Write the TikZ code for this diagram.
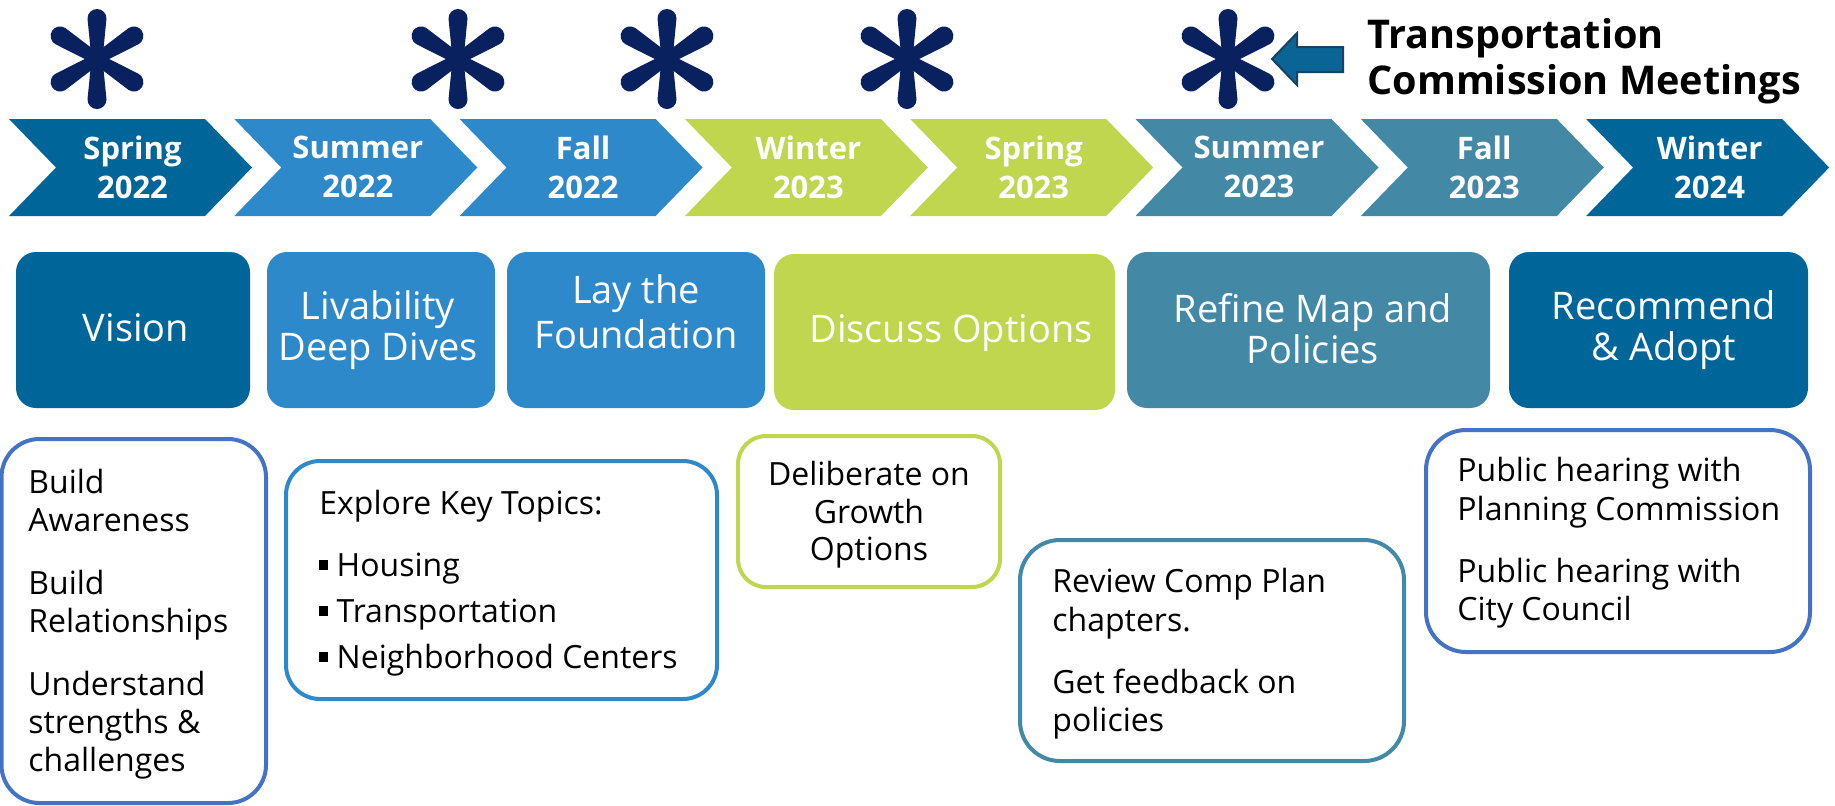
\documentclass[tikz,border=0pt]{standalone}
\usepackage{fontspec}
\setmainfont{Open Sans}
\definecolor{cDark}{RGB}{0,102,153}
\definecolor{cMid}{RGB}{46,137,202}
\definecolor{cLime}{RGB}{192,214,78}
\definecolor{cTeal}{RGB}{67,137,166}
\definecolor{cNavy}{RGB}{10,33,96}
\definecolor{cBord}{RGB}{68,114,196}
\definecolor{cArrow}{RGB}{10,100,150}
\definecolor{cArrowLine}{RGB}{25,65,100}
\newcommand{\sqbul}{\rule[0.2em]{0.26em}{0.31em}\hspace{0.28em}}
\begin{document}
\begin{tikzpicture}[x=0.5pt,y=-0.5pt,
  chevtext/.style={text=white, font=\fontsize{15.5}{19.5}\selectfont\bfseries, align=center, inner sep=0pt},
  phasebox/.style={rounded corners=10pt, inner sep=0pt, minimum height=78pt},
  phasetext/.style={text=white, font=\fontsize{19}{20.5}\selectfont, align=center, inner sep=0pt},
  notebox/.style={draw, line width=2pt, rounded corners=19pt, fill=white, inner sep=0pt},
  notetext/.style={font=\fontsize{16}{19.25}\selectfont, align=left, inner sep=0pt, text=black},
  astk/.pic={
    \foreach \ang/\len in {90/50,270/50,32/53,148/53,212/53,328/53}{
      \fill[cNavy,rotate=\ang] (0,-5.5) -- (\len-9.5,-9.5) arc[start angle=-90,end angle=90,radius=9.5] -- (0,5.5) -- cycle;}
    \fill[cNavy] (0,0) circle[radius=9];
  }
]
\useasboundingbox (0,0) rectangle (1835,805);

% asterisks
\foreach \x in {97,458,667,907,1228} \pic at (\x,59) {astk};

% arrow and title
\draw[fill=cArrow, draw=cArrowLine, line width=1pt, line join=miter]
  (1272,59) -- (1297,33) -- (1297,47) -- (1343,47) -- (1343,72) -- (1297,72) -- (1297,85) -- cycle;
\node[anchor=north west, inner sep=0pt, align=left, font=\fontsize{19.8}{23}\selectfont\bfseries] (title) at (1367,18) {Transportation\\Commission Meetings};

% chevrons
\foreach \i/\col/\a/\b in {0/cDark/Spring/2022, 1/cMid/Summer/2022, 2/cMid/Fall/2022, 3/cLime/Winter/2023, 4/cLime/Spring/2023, 5/cTeal/Summer/2023, 6/cTeal/Fall/2023, 7/cDark/Winter/2024}{
  \pgfmathsetmacro\L{9+225.3*\i}
  \fill[\col] (\L,119) -- ++(196,0) -- ++(47,48.5) -- ++(-47,48.5) -- ++(-196,0) -- ++(47,-48.5) -- cycle;
  \node[chevtext] (c\i) at (\L+123.5,167) {\a\\\b};
}

% phase boxes
\node[phasebox, fill=cDark, minimum width=117pt] (p1) at (133,330) {};
\node[phasebox, fill=cMid, minimum width=114pt] (p2) at (381,330) {};
\node[phasebox, fill=cMid, minimum width=129pt] (p3) at (636,330) {};
\node[phasebox, fill=cLime, minimum width=170.5pt] (p4) at (944.5,332) {};
\node[phasebox, fill=cTeal, minimum width=181.5pt] (p5) at (1308.5,330) {};
\node[phasebox, fill=cDark, minimum width=149.5pt] (p6) at (1658.5,330) {};

\node[phasetext] (l1) at (136,328) {Vision};
\node[phasetext] (l2) at (378,330) {Livability\\Deep Dives};
\node[phasetext, font=\fontsize{19}{22.5}\selectfont] (l3) at (636,311.5) {Lay the\\Foundation};
\node[phasetext] (l4) at (951,333) {Discuss Options};
\node[phasetext] (l5) at (1313,329) {Refine Map and\\Policies};
\node[phasetext] (l6) at (1664,330) {Recommend\\\& Adopt};

% note boxes
\node[notebox, draw=cBord, minimum width=132.25pt, minimum height=182pt] (n1) at (133.75,621) {};
\node[notebox, draw=cMid, minimum width=215.5pt, minimum height=119pt, rounded corners=17pt] (n2) at (501.5,580) {};
\node[notebox, draw=cLime, minimum width=131pt, minimum height=75.5pt, rounded corners=14pt] (n3) at (869,511.5) {};
\node[notebox, draw=cTeal, minimum width=192pt, minimum height=110.5pt, rounded corners=20pt] (n4) at (1212,650.5) {};
\node[notebox, draw=cBord, minimum width=192pt, minimum height=111pt, rounded corners=20pt] (n5) at (1618,541) {};

\node[notetext, anchor=north west, font=\fontsize{16}{19}\selectfont] (t1) at (28,469) {Build\\Awareness\\[12.5pt]Build\\Relationships\\[12.5pt]Understand\\strengths \&\\challenges};
\node[notetext, anchor=north west, font=\fontsize{16}{23}\selectfont] (t2) at (319,490) {Explore Key Topics:\\[8pt]\sqbul Housing\\\sqbul Transportation\\\sqbul Neighborhood Centers};
\node[notetext, anchor=north, align=center, font=\fontsize{16}{18.75}\selectfont] (t3) at (869,461) {Deliberate on\\Growth\\Options};
\node[notetext, anchor=north west] (t4) at (1052,568) {Review Comp Plan\\chapters.\\[11.75pt]Get feedback on\\policies};
\node[notetext, anchor=north west] (t5) at (1457,457) {Public hearing with\\Planning Commission\\[11.75pt]Public hearing with\\City Council};
\end{tikzpicture}
\end{document}
